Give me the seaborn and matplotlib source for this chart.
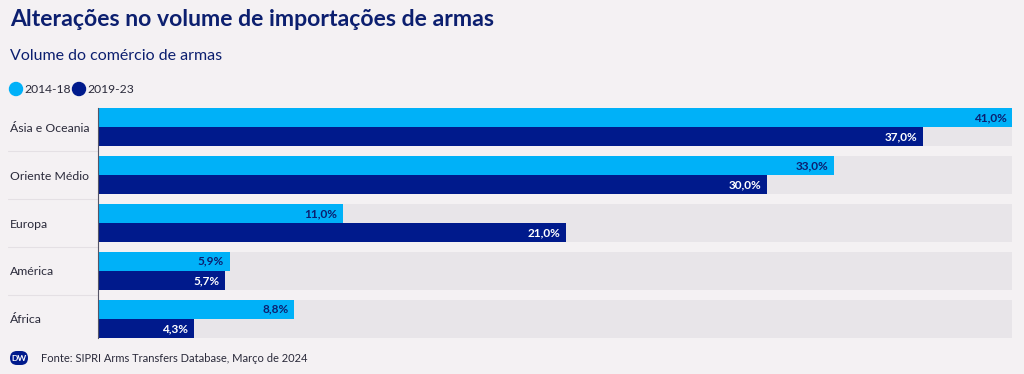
import pandas as pd
import matplotlib.pyplot as plt
import seaborn as sns
from matplotlib.patches import Circle, FancyBboxPatch

# dados
regioes = ['Ásia e Oceania', 'Oriente Médio', 'Europa', 'América', 'África']
periodos = ['2014-18', '2019-23']
vol_2014_18 = [41.0, 33.0, 11.0, 5.9, 8.8]
vol_2019_23 = [37.0, 30.0, 21.0, 5.7, 4.3]

# cores
fundo = '#f4f1f3'
trilho = '#e8e5e9'
azul_claro = '#00b1f8'
azul_escuro = '#001a8c'
texto_azul = '#0c1f6f'
texto_cinza = '#2a2a3a'

df = pd.DataFrame({
    'Região': regioes * 2,
    'Período': [periodos[0]] * 5 + [periodos[1]] * 5,
    'Volume': vol_2014_18 + vol_2019_23,
})

sns.set_theme(style='white')
plt.rcParams['font.family'] = ['Lato', 'DejaVu Sans']

fig = plt.figure(figsize=(10.24, 3.74), dpi=100, facecolor=fundo)

# eixo de sobreposição em pixels para elementos decorativos
deco = fig.add_axes([0, 0, 1, 1])
deco.set_xlim(0, 1024)
deco.set_ylim(374, 0)
deco.axis('off')

ax = fig.add_axes([98 / 1024, 1 - 338 / 374, (1012 - 98) / 1024, 230 / 374])
ax.set_facecolor(fundo)

maximo = max(vol_2014_18 + vol_2019_23)

# trilho cinza atrás das barras
ax.barh(regioes, [maximo] * len(regioes), height=0.8, color=trilho, lw=0, zorder=0)

sns.barplot(data=df, y='Região', x='Volume', hue='Período', order=regioes,
            hue_order=periodos, palette=[azul_claro, azul_escuro],
            width=0.8, dodge=True, saturation=1, legend=False, linewidth=0,
            ax=ax, zorder=2)

ax.set_xlim(0, maximo)
ax.set_ylim(len(regioes) - 0.6, -0.4)

# rótulos de valor (ignora o container do trilho)
for cont, cor in zip(ax.containers[1:], [texto_azul, 'white']):
    labels = [f'{v:.1f}%'.replace('.', ',') for v in cont.datavalues]
    txts = ax.bar_label(cont, labels=labels, padding=-4, color=cor, fontsize=8.5,
                        fontweight='bold')
    for t in txts:
        t.set_ha('right')

ax.set_xlabel('')
ax.set_ylabel('')
ax.set_xticks([])
for s in ['top', 'right', 'bottom']:
    ax.spines[s].set_visible(False)
ax.spines['left'].set_color('#555566')
ax.spines['left'].set_linewidth(0.8)
ax.spines['left'].set_zorder(5)

ax.tick_params(axis='y', length=0, pad=88 * 0.72)
for lbl in ax.get_yticklabels():
    lbl.set_ha('left')
    lbl.set_fontsize(8.8)
    lbl.set_color(texto_cinza)

# linhas separadoras na área dos rótulos
for i in range(len(regioes) - 1):
    ax.plot([-90 / 914, 0], [i + 0.5, i + 0.5], transform=ax.get_yaxis_transform(),
            color='#e4e0e4', lw=0.8, clip_on=False)

# títulos
deco.text(10, 19, 'Alterações no volume de importações de armas',
          fontsize=16.6, fontweight='bold', color=texto_azul, va='center')
deco.text(10, 56, 'Volume do comércio de armas',
          fontsize=11.5, color=texto_azul, va='center')

# legenda
for x0, cor, nome in [(16, azul_claro, periodos[0]), (79, azul_escuro, periodos[1])]:
    deco.add_patch(Circle((x0, 89), 6.5, color=cor))
    deco.text(x0 + 8, 89, nome, fontsize=8.7, color=texto_cinza, va='center')

# fonte com logo DW
deco.add_patch(FancyBboxPatch((10, 351), 18, 14, boxstyle='round,pad=0,rounding_size=7',
                              facecolor=azul_escuro, edgecolor='none'))
deco.text(19, 358.5, 'DW', fontsize=6, fontweight='bold',
          color='white', ha='center', va='center')
deco.text(41, 358, 'Fonte: SIPRI Arms Transfers Database, Março de 2024',
          fontsize=8, color=texto_cinza, va='center')

fig.savefig('out.png', dpi=100, facecolor=fundo)
